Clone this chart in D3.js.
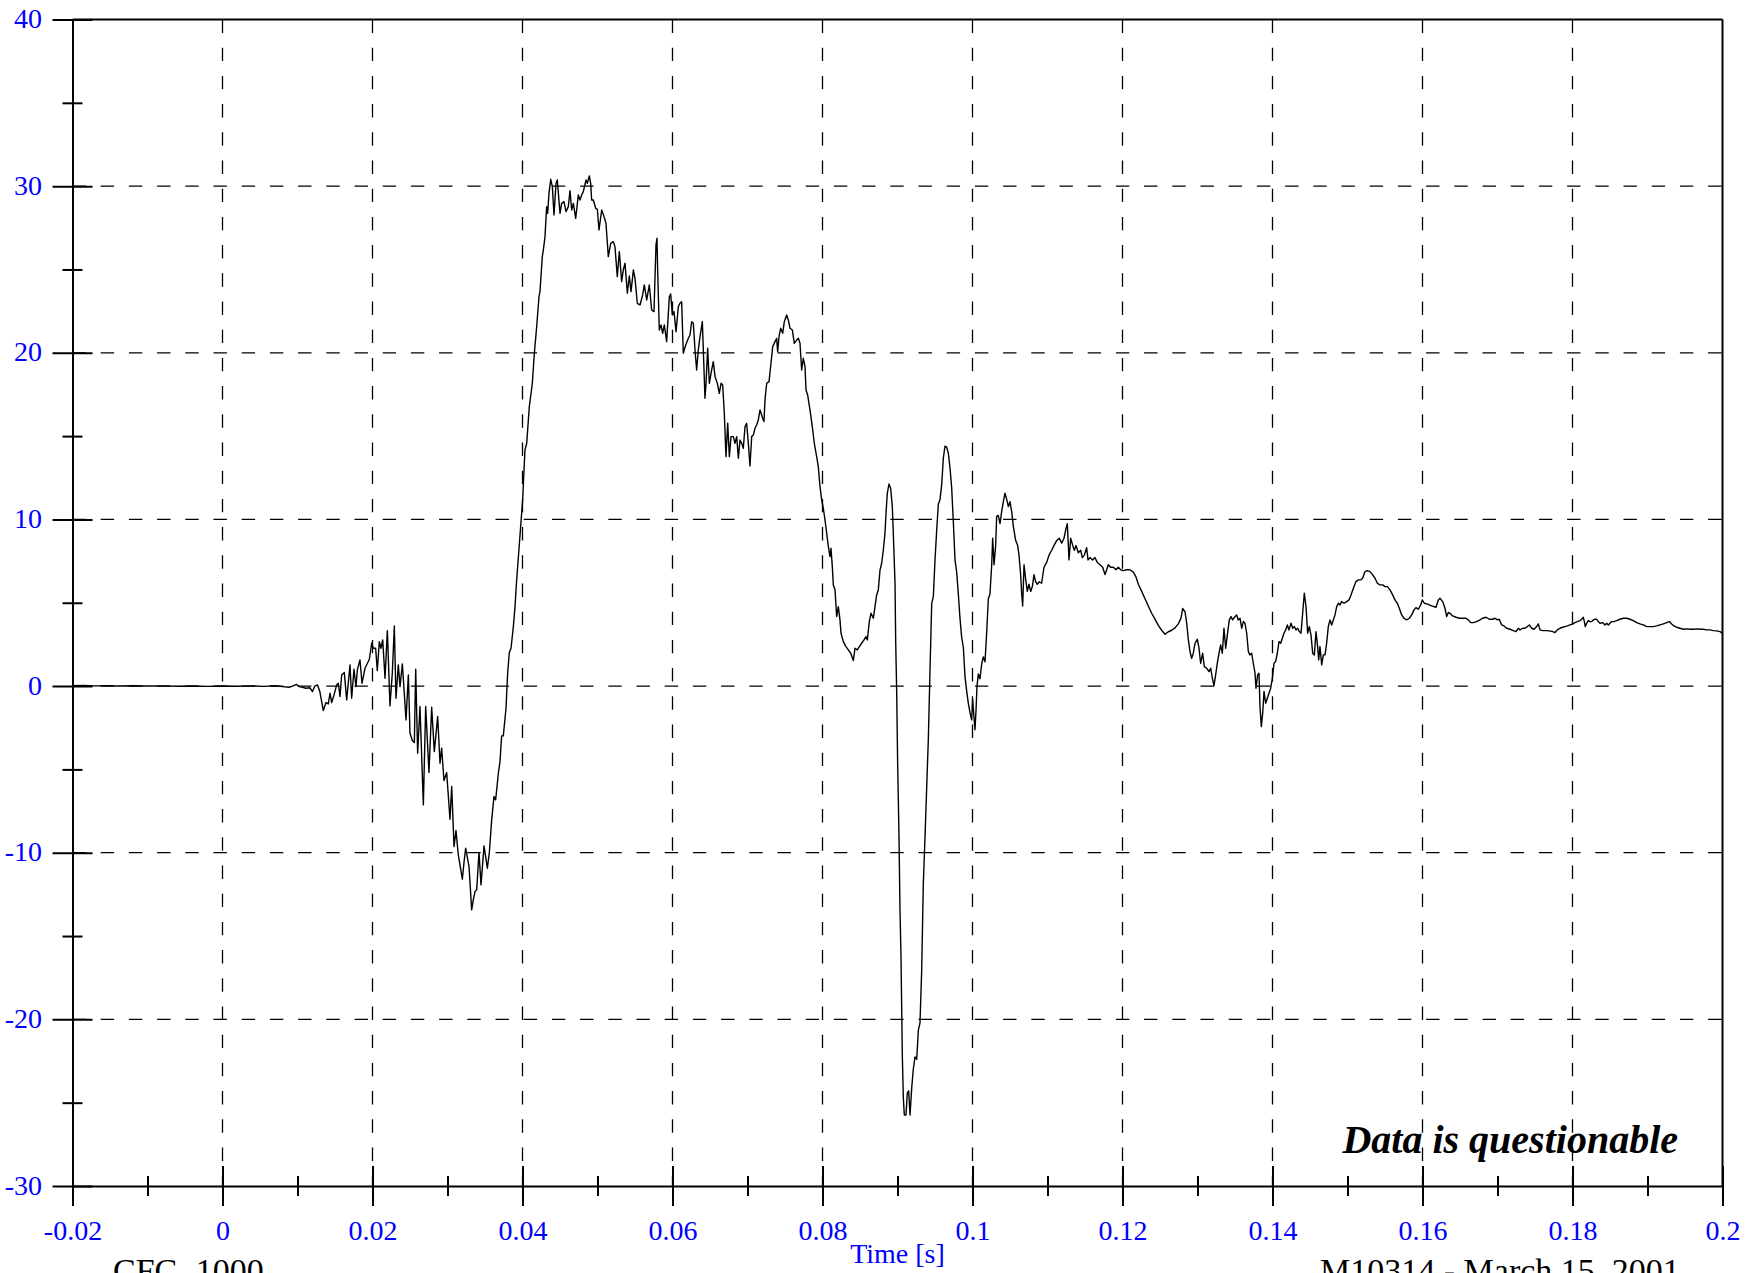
<!DOCTYPE html>
<html><head><meta charset="utf-8">
<script src="https://cdn.jsdelivr.net/npm/d3@7"></script>
<style>body{margin:0;background:#fff}svg{display:block}</style>
</head><body>
<script>
// ---- tick labels / texts ----
const xTickValues = [-0.02,0,0.02,0.04,0.06,0.08,0.1,0.12,0.14,0.16,0.18,0.2];
const xTickLabels = ["-0.02","0","0.02","0.04","0.06","0.08","0.1","0.12","0.14","0.16","0.18","0.2"];
const xMinorValues = [-0.01,0.01,0.03,0.05,0.07,0.09,0.11,0.13,0.15,0.17,0.19];
const yTickValues = [40,30,20,10,0,-10,-20,-30];
const yTickLabels = ["40","30","20","10","0","-10","-20","-30"];
const yMinorValues = [35,25,15,5,-5,-15,-25];
const xTitle = "Time [s]";
const footLeft = "CFC 1000";
const footRight = "M10314 - March 15, 2001";
const noteText = "Data is questionable";

// ---- series (time in ms, value) ----
const timeMs = [-20,-18.5,-17,-15.5,-14,-12,-10,-8,-6,-4,-2,0,2,4,5.5,7,8,8.89,9.33,9.87,10.2,10.67,11.11,11.64,12.0,12.31,12.67,12.98,13.44,
13.8,14.11,14.33,14.56,14.87,15.22,15.44,15.67,15.89,16.24,16.56,17.0,17.22,17.53,17.8,17.98,18.33,18.6,19.0,19.58,19.89,20.11,20.42,20.64,20.91,21.13,21.36,21.67,21.98,22.33,22.64,22.91,23.13,23.44,23.67,23.98,24.47,24.78,25.0,25.31,25.58,25.76,26.02,26.33,26.78,27.09,27.53,27.89,28.24,28.69,29.0,29.22,29.53,29.89,30.33,30.56,30.87,31.13,31.44,31.98,32.2,32.42,32.87,33.22,33.44,33.67,33.89,34.2,34.47,34.87,35.31,35.58,35.89,36.2,36.42,36.78,37.0,37.22,37.44,37.8,38.02,38.24,38.47,38.78,39.0,39.22,
40.02,40.2,40.33,40.56,40.91,41.31,41.58,41.89,42.2,42.33,42.64,42.78,43.0,43.22,43.36,43.53,43.76,43.98,44.2,44.47,44.64,44.78,45.0,45.22,45.53,45.8,46.11,46.33,46.56,46.78,47.09,47.44,47.67,47.89,48.11,48.47,48.64,48.91,49.09,49.22,49.44,49.76,49.98,50.2,50.56,50.87,51.13,51.44,51.76,52.11,52.33,52.64,52.91,53.22,53.44,53.67,53.98,54.24,54.47,54.78,55.0,55.31,55.67,56.02,56.24,56.56,56.91,57.22,57.53,57.8,57.93,58.02,58.24,58.47,58.69,58.91,59.22,59.58,59.76,59.98,60.2,60.47,60.78,61.0,61.22,61.44,61.76,62.11,62.33,62.56,62.78,63.0,63.22,63.44,63.67,63.98,64.33,64.47,64.69,64.91,65.22,65.44,65.67,65.98,66.24,66.47,66.69,66.91,67.13,67.36,67.58,67.8,68.11,68.33,68.56,68.78,69.0,69.22,69.44,69.67,69.89,70.11,70.33,70.56,70.78,71.0,71.22,71.44,
71.67,72.02,72.2,72.33,72.56,72.87,73.13,73.36,73.67,73.89,74.02,74.2,74.42,74.69,74.91,75.22,75.44,75.67,75.98,76.24,76.56,76.78,77.0,77.22,77.44,77.67,77.8,78.02,78.33,78.64,78.91,79.22,79.44,79.67,79.89,80.11,80.33,80.56,80.78,81.0,81.13,81.31,81.44,81.67,81.89,82.11,82.33,82.47,82.78,83.13,83.44,83.76,84.11,84.33,84.64,84.91,85.22,85.53,85.8,85.98,86.24,86.47,86.78,87.0,87.22,87.44,87.67,87.89,88.11,88.33,88.47,88.64,88.87,89.09,89.31,89.44,89.67,
89.76,89.89,90.02,90.2,90.33,90.47,90.64,90.78,90.91,91.13,91.31,91.49,91.67,91.89,92.11,92.33,92.56,92.78,93.0,93.22,93.44,93.67,93.89,94.11,94.33,94.56,94.78,95.0,95.22,95.44,95.67,95.89,96.11,96.33,96.56,96.78,97.0,97.22,97.44,97.67,97.89,98.11,98.33,98.56,98.78,99.0,99.22,99.44,99.67,99.89,100.02,100.2,100.33,100.47,100.6,100.78,101.0,101.22,101.44,101.67,101.89,102.11,102.33,102.56,102.69,102.87,103.09,103.22,103.44,103.67,103.89,104.11,104.33,104.56,104.78,105.0,105.22,105.44,105.76,106.02,106.2,106.42,106.56,106.69,106.87,107.09,107.31,107.53,107.76,107.98,108.2,108.42,108.64,108.91,109.22,109.53,109.89,110.2,110.56,110.87,111.22,111.58,111.89,112.2,112.47,112.64,112.87,113.09,113.36,113.58,113.8,114.11,114.42,114.64,114.91,115.22,115.4,115.67,116.02,116.33,116.64,117.0,117.36,117.67,117.89,118.11,118.42,118.78,119.13,119.44,119.76,120.11,120.56,120.98,121.44,121.8,122.11,122.56,123.0,123.44,123.89,124.33,124.78,125.22,125.67,126.11,126.56,127.0,127.44,127.8,128.02,
128.33,128.56,128.78,129.0,129.22,129.44,129.67,129.98,130.2,130.42,130.69,130.91,131.22,131.53,131.76,131.98,132.2,132.42,132.64,132.87,133.09,133.31,133.53,133.76,133.98,134.24,134.47,134.69,135.0,135.22,135.44,135.67,135.89,136.11,136.33,136.56,136.78,136.98,137.22,137.44,137.67,137.8,138.02,138.2,138.33,138.51,138.69,138.87,139.09,139.31,139.53,139.76,139.98,140.2,140.42,140.64,140.87,141.09,141.31,141.53,141.76,141.98,142.2,142.47,142.69,142.91,143.13,143.36,143.58,143.8,144.02,144.24,144.47,144.69,144.91,145.13,145.36,145.58,145.8,146.02,146.16,146.33,146.56,146.78,147.0,147.22,147.44,147.67,147.89,148.11,148.33,148.56,148.78,149.0,149.22,149.53,149.89,150.2,150.47,150.78,151.13,151.44,151.76,152.02,152.33,152.64,153.0,153.36,153.67,153.98,154.33,154.69,155.0,155.31,155.67,156.02,156.33,156.64,156.91,157.22,157.53,157.89,158.24,158.56,158.87,159.13,159.44,159.76,159.98,160.24,160.56,160.91,161.22,161.53,161.8,162.11,
162.33,162.69,163.0,163.22,163.44,163.67,164.02,164.47,164.91,165.36,165.8,166.11,166.42,166.78,167.22,167.67,168.02,168.47,168.91,169.36,169.67,169.98,170.24,170.56,170.87,171.22,171.67,172.11,172.47,172.78,173.0,173.36,173.67,173.98,174.24,174.56,174.87,175.22,175.44,175.67,176.02,176.47,176.91,177.36,177.67,177.98,178.33,178.69,179.0,179.31,179.67,180.02,180.33,180.64,181.0,181.22,181.44,181.58,181.71,181.89,182.11,182.33,182.56,182.78,183.0,183.22,183.44,183.67,184.02,184.33,184.56,184.78,185.0,185.22,185.53,185.89,186.33,186.78,187.22,187.67,188.11,188.56,189.0,189.44,189.89,190.33,190.78,191.22,191.67,192.11,192.56,192.91,193.22,193.53,193.89,194.33,194.78,195.22,195.67,196.11,196.56,197.0,197.44,197.89,198.33,198.78,199.22,199.67,199.93,200.0];

const accel = [0.02,0.03,0.01,0.02,0.0,0.02,0.0,0.01,-0.01,0.0,-0.02,0.0,-0.01,0.01,-0.02,0.02,-0.03,-0.07,0.0,0.1,-0.03,-0.07,-0.13,-0.1,-0.33,0.0,0.07,-0.33,-1.47,
-0.99,-1.07,-0.43,-0.99,-0.53,0.07,0.17,-0.63,0.67,0.81,-0.83,1.27,-0.73,1.01,-0.03,0.97,1.57,0.17,1.07,1.61,2.57,2.27,2.27,0.93,2.67,2.27,2.77,0.47,3.33,-1.19,0.77,3.61,-0.73,1.27,-0.03,1.33,-2.03,0.67,-2.83,-3.27,-3.39,1.01,-4.03,-1.23,-7.13,-1.23,-5.19,-1.27,-3.93,-1.83,-4.63,-3.73,-5.67,-5.19,-7.99,-6.03,-9.63,-8.67,-10.13,-11.59,-10.59,-9.73,-10.83,-13.43,-12.83,-12.33,-12.23,-9.99,-11.93,-9.59,-10.93,-9.99,-8.03,-6.63,-6.83,-5.23,-4.53,-2.99,-2.99,-1.33,0.77,2.01,2.27,3.57,4.77,6.37,
11.17,12.97,14.17,14.57,16.77,18.17,19.97,21.57,23.37,23.67,25.77,26.17,26.97,28.77,28.37,29.57,30.41,29.97,28.27,30.17,30.37,29.57,28.37,28.97,29.07,28.47,28.77,29.73,28.57,28.97,28.07,29.47,29.17,29.47,29.67,30.37,30.17,30.61,30.17,29.17,29.17,28.67,28.61,27.37,28.57,28.17,27.77,25.77,26.57,26.67,26.37,24.57,26.07,24.27,24.97,25.37,23.57,24.61,23.67,24.97,24.47,22.97,22.87,23.47,24.07,23.17,24.07,22.57,22.47,26.47,26.87,24.97,21.37,21.67,21.17,21.67,20.67,23.37,23.53,22.27,22.47,21.27,22.77,22.97,23.07,19.97,20.47,20.87,21.07,21.87,21.77,20.17,18.97,20.17,20.97,21.87,17.27,18.17,20.27,18.17,18.97,19.47,18.57,18.17,17.57,18.17,18.07,16.37,13.77,15.77,13.77,14.97,14.97,14.57,14.97,13.67,14.77,14.57,14.27,15.57,15.77,14.57,13.21,14.97,15.07,15.47,15.67,15.97,
16.57,16.07,15.87,17.17,18.17,18.27,19.37,20.37,20.67,20.87,20.07,20.97,21.47,21.17,21.87,22.27,21.97,21.47,21.37,20.57,20.77,20.87,20.57,18.97,19.67,19.17,17.77,17.47,16.57,15.57,14.57,13.77,13.17,11.97,11.17,10.67,9.97,9.17,8.37,7.77,8.27,7.17,6.07,5.77,4.17,4.77,3.97,3.17,2.67,2.37,2.17,1.97,1.53,2.27,2.17,2.37,2.57,2.77,2.97,2.77,3.87,4.37,4.07,4.77,5.47,5.77,6.97,7.37,8.17,9.17,10.37,11.57,12.13,11.87,10.77,9.17,6.17,
2.62,-0.29,-4.65,-9.02,-13.38,-16.29,-22.11,-24.72,-25.74,-25.74,-24.43,-24.29,-25.74,-24.14,-22.98,-22.25,-22.4,-20.65,-20.21,-17.16,-11.92,-9.02,-6.11,-3.2,0.87,4.95,5.38,7.57,9.31,10.91,11.2,12.07,13.67,14.4,14.34,13.97,13.09,11.93,9.89,7.57,6.84,5.53,4.08,2.91,2.33,0.58,-0.29,-1.02,-1.6,-2.03,-0.81,-1.89,-2.62,-1.45,0.0,0.73,0.44,1.31,1.75,1.46,3.2,5.24,5.53,7.28,8.87,7.28,8.44,10.18,10.24,9.75,10.48,11.06,11.58,11.2,10.77,11.06,10.48,9.6,8.73,8.44,7.86,6.69,5.53,4.8,7.28,6.4,5.68,6.11,5.68,5.97,6.69,6.26,6.11,6.26,6.17,7.13,7.42,7.86,8.15,8.44,8.73,8.87,8.58,8.87,9.46,9.75,7.57,8.87,8.44,8.15,8.44,8.0,8.15,7.71,7.86,8.3,7.57,7.71,7.57,7.71,7.42,7.28,7.13,6.69,6.98,7.28,7.13,7.13,6.98,7.13,6.98,6.93,6.98,6.98,6.84,6.55,6.11,5.68,5.24,4.8,4.37,4.02,3.64,3.35,3.11,3.26,3.35,3.49,3.73,4.08,4.66,
4.47,3.77,2.77,2.07,1.67,1.97,2.57,2.81,2.27,1.37,1.97,1.17,1.07,0.87,1.07,0.47,0.03,0.67,1.37,1.97,2.47,1.97,3.47,2.27,3.07,3.97,4.17,3.97,4.17,4.27,3.97,4.07,3.47,3.87,3.77,3.17,2.07,1.87,1.97,1.37,0.77,-0.13,0.67,0.77,-1.23,-2.43,-1.63,-0.33,-1.03,-0.73,-0.43,-0.13,0.47,1.37,1.47,1.97,2.67,2.57,2.87,3.17,3.37,3.67,3.37,3.77,3.47,3.57,3.37,3.47,3.27,3.17,4.37,5.57,4.77,3.17,3.57,3.07,1.97,1.87,3.27,2.37,1.57,2.37,1.27,1.87,1.87,2.57,3.57,3.97,3.67,3.97,4.27,4.77,4.97,4.87,5.07,4.97,5.07,5.17,5.47,5.87,6.27,6.37,6.37,6.47,6.87,6.93,6.87,6.67,6.47,6.17,6.07,6.07,5.97,5.97,5.77,5.47,5.17,4.97,4.67,4.27,4.07,3.97,4.07,4.27,4.57,4.71,4.61,4.87,5.17,4.97,4.93,4.87,4.81,4.77,4.73,5.17,
5.27,5.07,4.67,4.17,4.41,4.37,4.21,4.13,4.07,4.07,4.07,3.97,3.81,3.81,3.87,3.97,4.07,4.13,4.01,4.01,4.07,3.97,4.01,3.67,3.61,3.47,3.41,3.33,3.27,3.47,3.37,3.47,3.47,3.57,3.67,3.47,3.41,3.57,3.73,3.37,3.33,3.33,3.31,3.27,3.21,3.37,3.47,3.53,3.57,3.61,3.67,3.73,3.81,3.87,3.93,4.01,4.13,3.87,3.57,3.77,3.93,3.87,3.87,3.97,4.01,4.01,3.87,3.77,3.81,3.67,3.77,3.67,3.77,3.87,3.87,3.93,4.01,4.07,4.07,4.01,3.93,3.81,3.73,3.67,3.57,3.57,3.57,3.61,3.67,3.73,3.81,3.87,3.73,3.61,3.53,3.47,3.41,3.43,3.41,3.41,3.43,3.41,3.41,3.37,3.37,3.33,3.31,3.27,3.17,3.13];

// ---- drawing ----
const W = 1764, H = 1273;
const serif = "'Liberation Serif','Times New Roman',Times,serif";
const blue = "#0000ff";
const svg = d3.select("body").append("svg").attr("width", W).attr("height", H)
  .style("background", "#fff");

const x = d3.scaleLinear().domain([-0.02, 0.2]).range([72.5, 1722.5]);
const y = d3.scaleLinear().domain([-30, 40]).range([1186, 19.5]);

// grid
const grid = svg.append("g").attr("stroke", "#000").attr("stroke-width", 1.3)
  .attr("stroke-dasharray", "13.4 14.8").attr("fill", "none");
grid.selectAll("line.gx").data(xTickValues.slice(1, -1)).join("line")
  .attr("x1", d => x(d)).attr("x2", d => x(d))
  .attr("y1", y(40)).attr("y2", y(-30));
grid.selectAll("line.gy").data(yTickValues.slice(1, -1)).join("line")
  .attr("class","gy")
  .attr("y1", d => y(d)).attr("y2", d => y(d))
  .attr("x1", x(-0.02)).attr("x2", x(0.2));

// curve
const pts = timeMs.map((t, i) => [t / 1000, accel[i]]);
svg.append("path").datum(pts)
  .attr("fill", "none").attr("stroke", "#000").attr("stroke-width", 1.4)
  .attr("stroke-linejoin", "round")
  .attr("d", d3.line().x(d => x(d[0])).y(d => y(d[1])));

// frame (top + right)
const frame = svg.append("g").attr("stroke", "#000").attr("stroke-width", 2);
frame.append("line").attr("x1", x(-0.02)).attr("x2", x(0.2)).attr("y1", y(40)).attr("y2", y(40));
frame.append("line").attr("x1", x(0.2)).attr("x2", x(0.2)).attr("y1", y(40)).attr("y2", y(-30));

// left axis
const yAxis = d3.axisLeft(y).tickValues(yTickValues)
  .tickFormat((d, i) => yTickLabels[i]).tickSize(20).tickSizeOuter(0).tickPadding(10.5);
const gy = svg.append("g").attr("transform", `translate(${x(-0.02)},0)`).call(yAxis);
gy.selectAll(".tick line").attr("x1", 20).attr("stroke-width", 2);
gy.select(".domain").attr("stroke-width", 2);
gy.selectAll("text").attr("fill", blue).attr("font-family", serif).attr("font-size", 28)
  .attr("dy", "0.29em");
const yMinor = d3.axisLeft(y).tickValues(yMinorValues).tickFormat("").tickSize(10).tickSizeOuter(0);
const gym = svg.append("g").attr("transform", `translate(${x(-0.02)},0)`).call(yMinor);
gym.select(".domain").remove();
gym.selectAll(".tick line").attr("x1", 10).attr("stroke-width", 2);

// bottom axis
const xAxis = d3.axisBottom(x).tickValues(xTickValues)
  .tickFormat((d, i) => xTickLabels[i]).tickSize(20).tickSizeOuter(0).tickPadding(14);
const gx = svg.append("g").attr("transform", `translate(0,${y(-30)})`).call(xAxis);
gx.selectAll(".tick line").attr("y1", -20).attr("stroke-width", 2);
gx.select(".domain").attr("stroke-width", 2);
gx.selectAll("text").attr("fill", blue).attr("font-family", serif).attr("font-size", 28);
const xMinor = d3.axisBottom(x).tickValues(xMinorValues).tickFormat("").tickSize(10).tickSizeOuter(0);
const gxm = svg.append("g").attr("transform", `translate(0,${y(-30)})`).call(xMinor);
gxm.select(".domain").remove();
gxm.selectAll(".tick line").attr("y1", -10).attr("stroke-width", 2);

// texts
svg.append("text").attr("x", (x(-0.02) + x(0.2)) / 2).attr("y", 1263)
  .attr("text-anchor", "middle").attr("fill", blue)
  .attr("font-family", serif).attr("font-size", 28).text(xTitle);
svg.append("text").attr("x", 1678).attr("y", 1153).attr("text-anchor", "end")
  .attr("font-family", serif).attr("font-size", 40).attr("font-weight", "bold")
  .attr("font-style", "italic").attr("fill", "#000").text(noteText);
svg.append("text").attr("x", 113).attr("y", 1282).attr("font-family", serif)
  .attr("font-size", 34).attr("word-spacing", 10).attr("fill", "#000").text(footLeft);
svg.append("text").attr("x", 1320).attr("y", 1282).attr("font-family", serif)
  .attr("font-size", 34).attr("fill", "#000").text(footRight);
</script>
</body></html>
